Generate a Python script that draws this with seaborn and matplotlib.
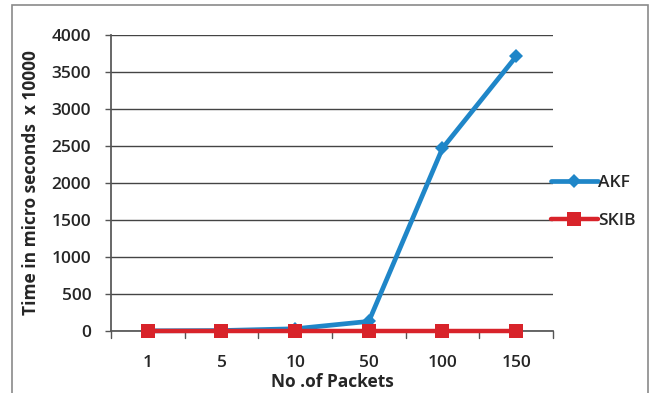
import matplotlib
matplotlib.use("Agg")
import matplotlib.pyplot as plt
import seaborn as sns
import pandas as pd
from matplotlib.patches import Rectangle
from matplotlib.lines import Line2D

packets = ["1", "5", "10", "50", "100", "150"]
akf = [2, 6, 30, 130, 2470, 3710]
skib = [0, 0, 0, 0, 0, 0]
yticks = [0, 500, 1000, 1500, 2000, 2500, 3000, 3500, 4000]

sns.set_theme(style="white")
plt.rcParams["font.family"] = ["Open Sans", "DejaVu Sans"]

df = pd.DataFrame({
    "packets": packets * 2,
    "time": akf + skib,
    "scheme": ["AKF"] * len(packets) + ["SKIB"] * len(packets),
})

fig = plt.figure(figsize=(6.55, 3.93), dpi=100)
ax = fig.add_axes([111 / 655, 1 - 331 / 393, (553 - 111) / 655, (331 - 35) / 393])

blue = "#1f86c8"
red = "#d8232a"
fs = 12.5
sns.lineplot(data=df[df.scheme == "AKF"], x="packets", y="time", ax=ax,
             color=blue, lw=3.4, marker="D", markersize=7, markeredgewidth=0,
             sort=False, legend=False, zorder=3, clip_on=False)
sns.lineplot(data=df[df.scheme == "SKIB"], x="packets", y="time", ax=ax,
             color=red, lw=3.2, marker="s", markersize=10.5, markeredgewidth=0,
             sort=False, legend=False, zorder=4, clip_on=False)

ax.set_xlim(-0.5, len(packets) - 0.5)
ax.set_ylim(0, 4000)
ax.set_yticks(yticks)
ax.set_yticklabels([str(v) for v in yticks], fontsize=fs, fontweight="semibold")
ax.set_xticks(range(len(packets)))
ax.set_xticklabels(packets, fontsize=fs, fontweight="semibold")
ax.tick_params(axis="x", length=0, pad=17)
ax.tick_params(axis="y", length=4.3, width=1, color="#555555", direction="out", pad=10, left=True)
# category separator ticks below the x axis
for b in [i - 0.5 for i in range(len(packets) + 1)]:
    ax.plot([b, b], [0, -100], color="#555555", lw=1, clip_on=False, zorder=2)

ax.grid(axis="y", color="#444444", lw=1)
ax.set_axisbelow(True)
for side in ["top", "right"]:
    ax.spines[side].set_visible(False)
ax.spines["left"].set_color("#555555")
ax.spines["bottom"].set_color("#555555")

ax.set_xlabel("No .of Packets", fontsize=fs, fontweight="bold", labelpad=2)
ax.set_ylabel("Time in micro seconds  x 10000", fontsize=fs, fontweight="bold", labelpad=8)

handles = [Line2D([0], [0], color=blue, lw=3.4, marker="D", markersize=7, markeredgewidth=0),
           Line2D([0], [0], color=red, lw=3.2, marker="s", markersize=10.5, markeredgewidth=0)]
fig.legend(handles, ["AKF", "SKIB"], loc="center left", bbox_to_anchor=(535 / 655, 1 - 202 / 393),
           frameon=False, handlelength=2.7, handletextpad=0.05, labelspacing=1.3,
           prop={"weight": "semibold", "size": fs})

fig.patches.append(Rectangle((12 / 655, -0.01), (648 - 12) / 655, 1 - 5 / 393 + 0.01,
                             transform=fig.transFigure, fill=False, edgecolor="#8a8a8a", lw=1.2))

fig.savefig("out.png", dpi=100)
